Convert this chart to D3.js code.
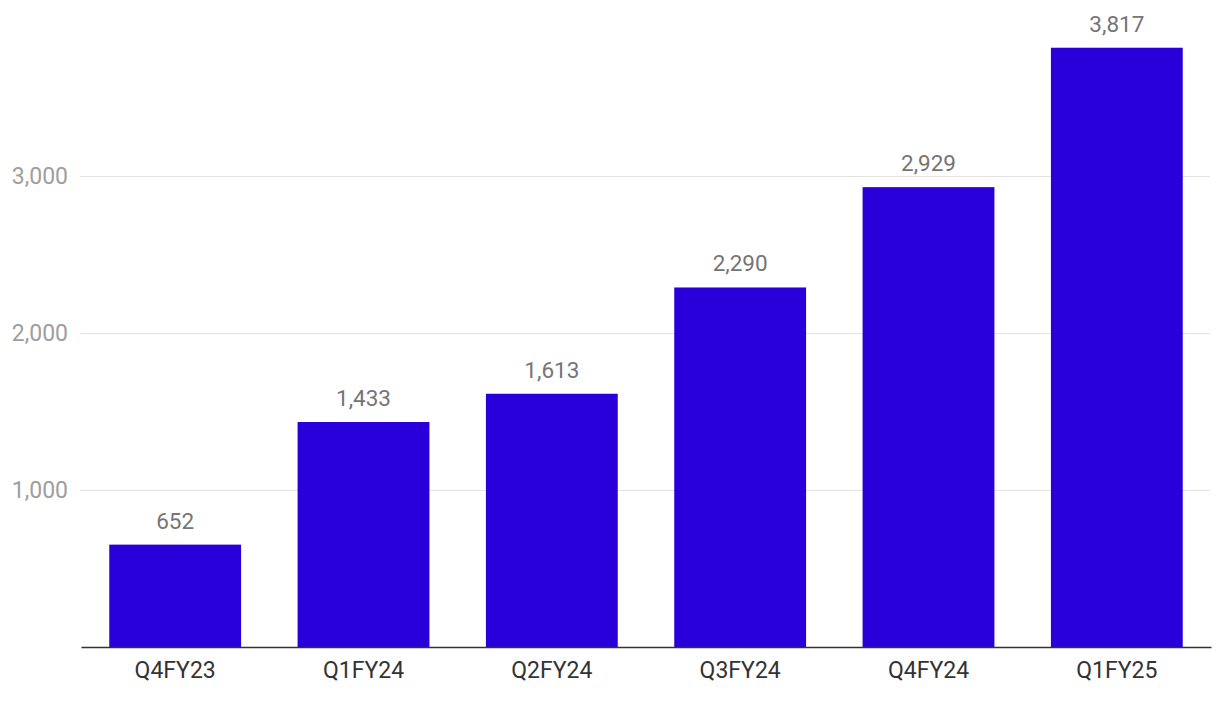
<!DOCTYPE html>
<html>
<head>
<meta charset="utf-8">
<script src="https://cdn.jsdelivr.net/npm/d3@7"></script>
<style>
  body { margin: 0; background: #fff; }
  text { font-family: Roboto, "Noto Sans", sans-serif; }
</style>
</head>
<body>
<div id="chart"></div>
<script>
// chart data
var quarters = ["Q4FY23", "Q1FY24", "Q2FY24", "Q3FY24", "Q4FY24", "Q1FY25"];
var values = [652, 1433, 1613, 2290, 2929, 3817];
var yTicks = [1000, 2000, 3000];

var width = 1220,
    height = 702,
    margin = { top: 19, right: 10, bottom: 55, left: 80 };

var svg = d3.select("#chart").append("svg")
    .attr("width", width)
    .attr("height", height);

var x = d3.scaleBand()
    .domain(quarters)
    .range([margin.left + 1, width - margin.right + 1])
    .paddingInner(0.3)
    .paddingOuter(0.15);

var y = d3.scaleLinear()
    .domain([0, 4000])
    .range([height - margin.bottom, margin.top]);

var fmt = d3.format(",");

// gridlines
svg.append("g").selectAll("line")
    .data(yTicks).enter()
    .append("line")
    .attr("x1", margin.left)
    .attr("x2", width - margin.right)
    .attr("y1", function (d) { return y(d) + 0.5; })
    .attr("y2", function (d) { return y(d) + 0.5; })
    .attr("stroke", "#e3e3e3")
    .attr("stroke-width", 1);

// y labels
svg.append("g").selectAll("text")
    .data(yTicks).enter()
    .append("text")
    .attr("x", 68)
    .attr("y", function (d) { return y(d); })
    .attr("dy", "0.35em")
    .attr("text-anchor", "end")
    .attr("fill", "#9e9e9e")
    .style("font-size", "23px")
    .text(fmt);

// bars
svg.append("g").selectAll("rect")
    .data(values).enter()
    .append("rect")
    .attr("x", function (d, i) { return x(quarters[i]); })
    .attr("width", x.bandwidth())
    .attr("y", function (d) { return y(d); })
    .attr("height", function (d) { return y(0) - y(d); })
    .attr("fill", "#2900d9");

// value labels
svg.append("g").selectAll("text")
    .data(values).enter()
    .append("text")
    .attr("x", function (d, i) { return x(quarters[i]) + x.bandwidth() / 2; })
    .attr("y", function (d) { return y(d) - 16; })
    .attr("text-anchor", "middle")
    .attr("fill", "#757575")
    .style("font-size", "22.5px")
    .text(fmt);

// x axis
var xAxis = svg.append("g")
    .attr("transform", "translate(0," + y(0) + ")")
    .call(d3.axisBottom(x).tickSize(0).tickPadding(15));
xAxis.select(".domain")
    .attr("stroke", "#333")
    .attr("stroke-width", 1.5);
xAxis.selectAll("text")
    .attr("fill", "#333")
    .style("font-size", "23px")
    .style("font-family", "Roboto, 'Noto Sans', sans-serif");
</script>
</body>
</html>
